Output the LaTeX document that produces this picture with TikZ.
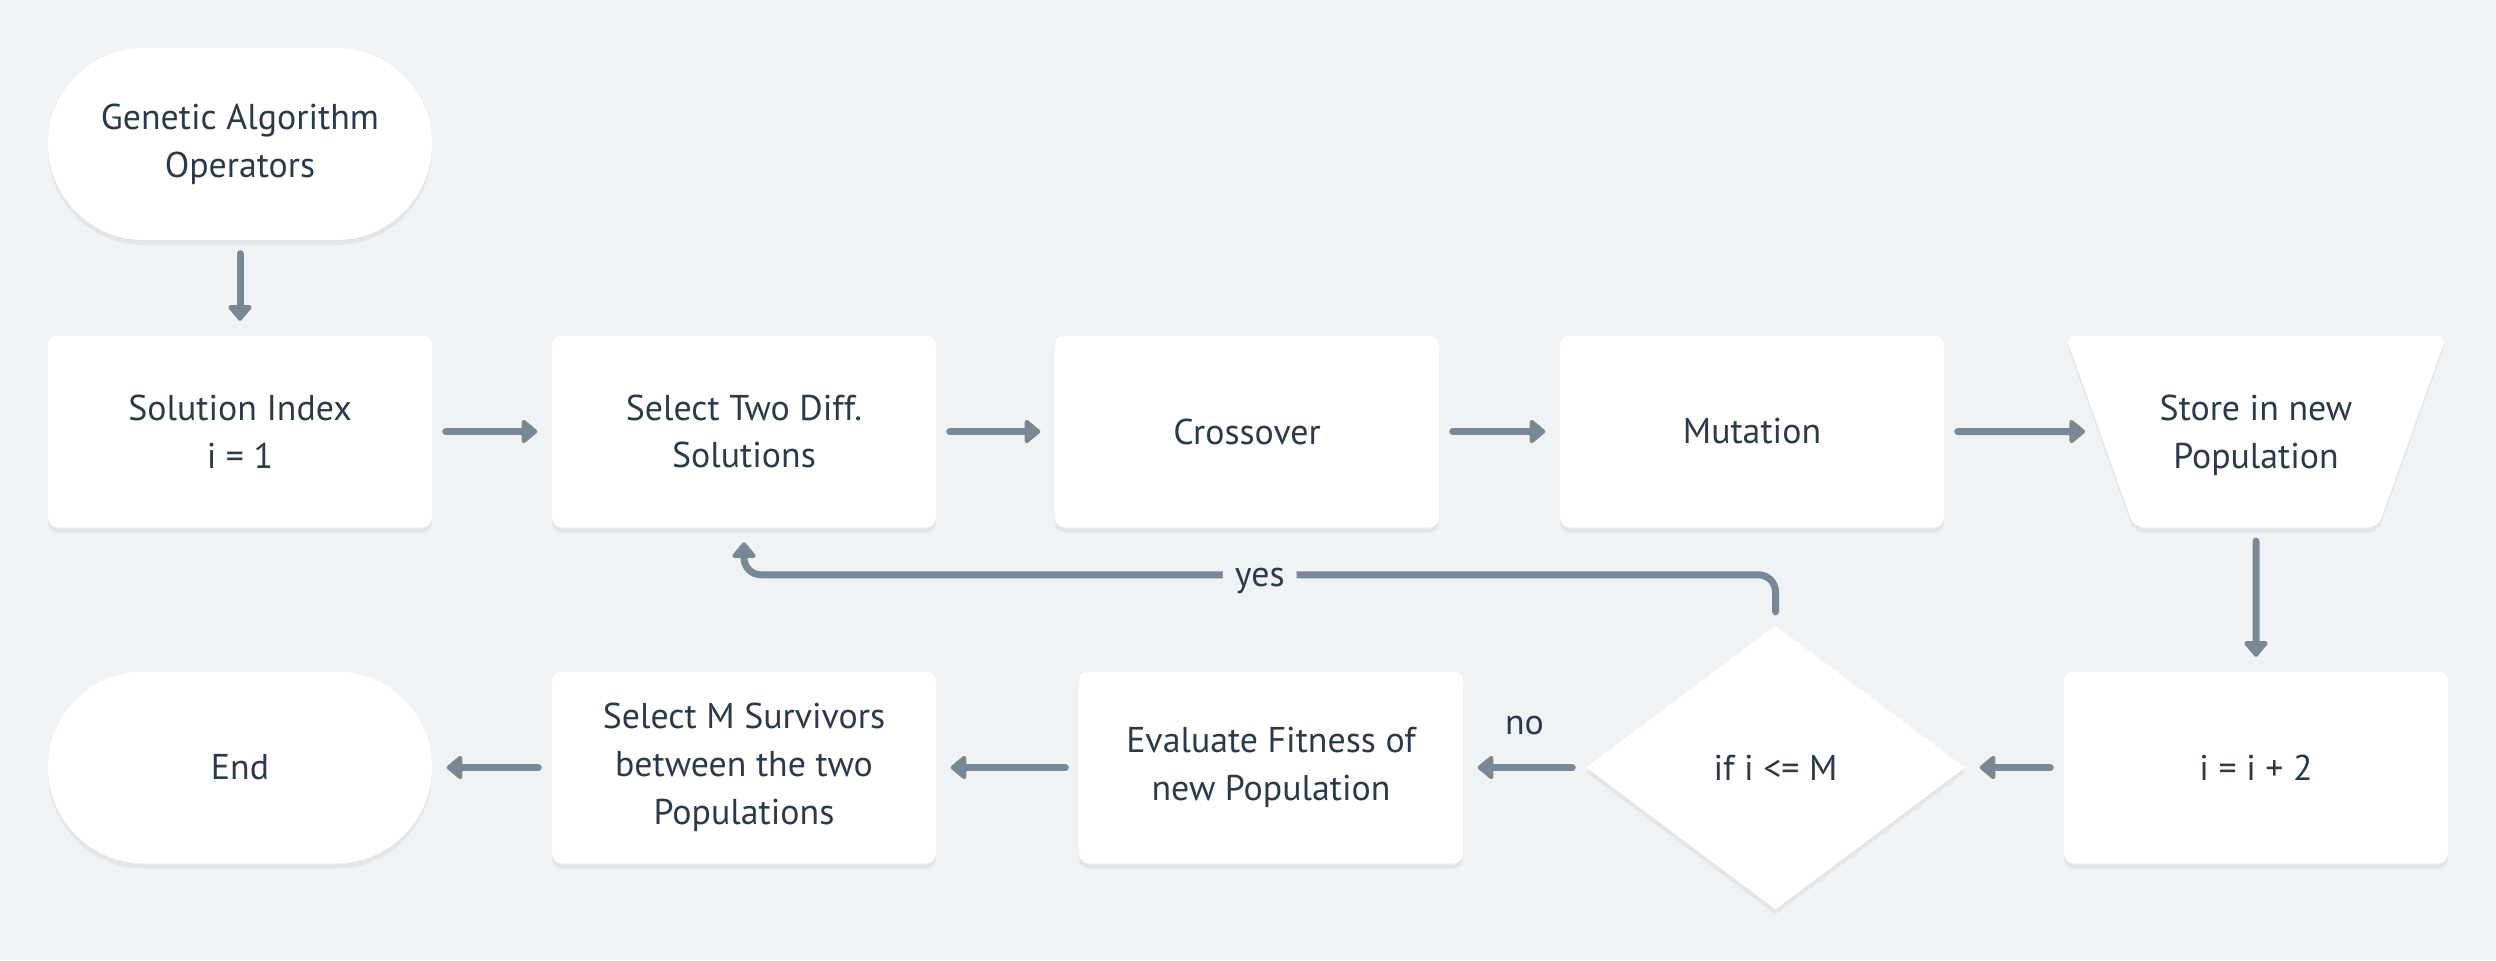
\documentclass[tikz,border=0pt]{standalone}
\usepackage{fontspec}
\setmainfont{PT Sans}
\usetikzlibrary{arrows.meta,shapes.geometric,shadows}
\definecolor{gaink}{HTML}{2B3A4A}
\definecolor{gagrey}{HTML}{7A8896}
\definecolor{gapale}{HTML}{EFF3F6}
\tikzset{
  ga text/.style={font=\fontsize{10.2}{13.6}\selectfont, text=gaink},
  ga shade/.style={drop shadow={shadow xshift=0mm, shadow yshift=-0.5mm, opacity=0.05, fill=black}},
  ga box/.style={fill=white, ga shade, rounded corners=1mm,
    minimum width=38.4mm, minimum height=19.2mm, align=center},
  ga term/.style={ga box, rounded corners=9.6mm},
  ga store/.style={ga box, trapezium, shape border rotate=180, trapezium left angle=63,
    trapezium right angle=63, trapezium stretches=true, minimum width=38.2mm},
  ga test/.style={diamond, fill=white, ga shade, minimum width=37.9mm, minimum height=28.4mm,
    align=center, inner sep=0pt},
  ga arrow/.style={-{Triangle[length=1.7mm,width=2.7mm,round]}, line width=0.7mm,
    draw=gagrey, line cap=round, shorten <=1.3mm, shorten >=1.4mm},
  ga label/.style={font=\fontsize{10.2}{13.6}\selectfont, text=gaink, fill=gapale, inner sep=1.2mm}
}

\begin{document}
\begin{tikzpicture}[ga text, x=1cm, y=1cm]
  \fill[gapale] (0,0) rectangle (24.96,9.6);
  \useasboundingbox (0,0) rectangle (24.96,9.6);
  % top row
  \node[ga term] (start) at (2.40,8.16) {Genetic Algorithm\\Operators};
  \node[ga box] (index) at (2.40,5.285) {Solution Index\\i = 1};
  \node[ga box] (pick) at (7.44,5.285) {Select Two Diff.\\Solutions};
  \node[ga box] (cross) at (12.47,5.285) {Crossover};
  \node[ga box] (mutate) at (17.52,5.285) {Mutation};
  \node[ga store] (store) at (22.56,5.285) {\raisebox{-0.35mm}[\height][\depth]{\begin{tabular}{@{}c@{}}Store in new\\Population\end{tabular}}};
  % bottom row
  \node[ga term] (finish) at (2.40,1.925) {End};
  \node[ga box] (survive) at (7.44,1.925) {Select M Survivors\\between the two\\Populations};
  \node[ga box] (fitness) at (12.71,1.925) {Evaluate Fitness of\\new Population};
  \node[ga test] (test) at (17.755,1.925) {if i <= M};
  \node[ga box] (incr) at (22.56,1.925) {i = i + 2};
  % connectors
  \draw[ga arrow] (start) -- (index);
  \draw[ga arrow] (index) -- (pick);
  \draw[ga arrow] (pick) -- (cross);
  \draw[ga arrow] (cross) -- (mutate);
  \draw[ga arrow] (mutate) -- (store);
  \draw[ga arrow] (store) -- (incr);
  \draw[ga arrow] (incr) -- (test);
  \draw[ga arrow] (test) -- node[ga label, fill=none, above=1.7mm] {no} (fitness);
  \draw[ga arrow] (fitness) -- (survive);
  \draw[ga arrow] (survive) -- (finish);
  \draw[ga arrow, rounded corners=1.7mm] (test.north) -- ++(0,0.5) -| node[ga label, pos=0.25, yshift=-0.6mm] {yes} (pick.south);
\end{tikzpicture}
\end{document}
